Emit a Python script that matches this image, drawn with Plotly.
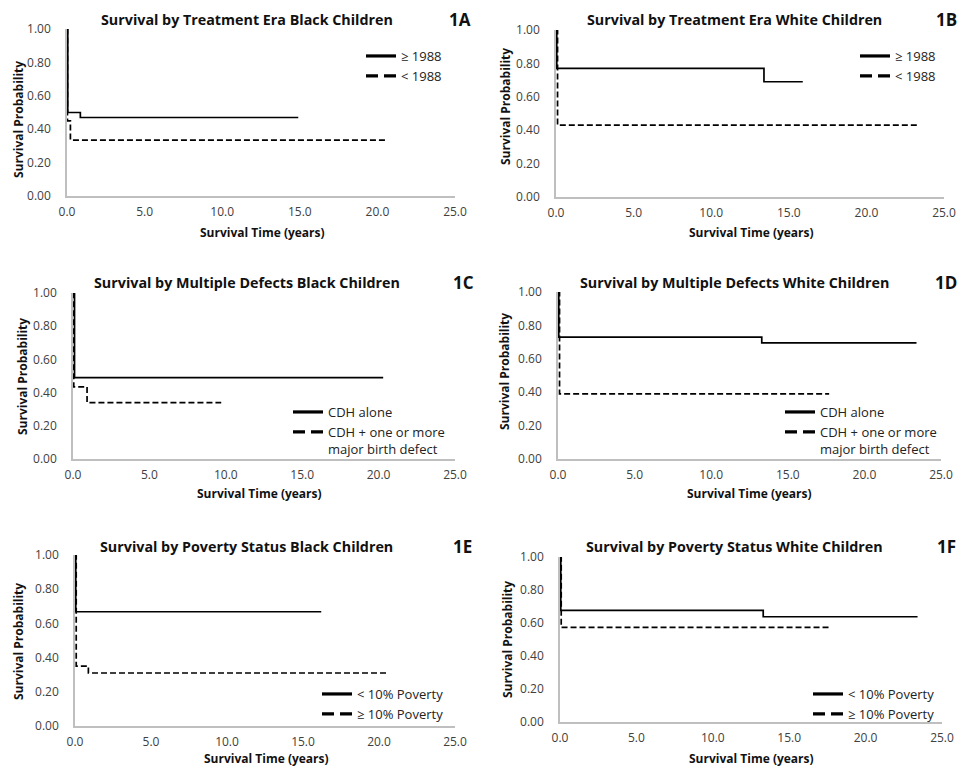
import plotly.graph_objects as go

# ---------------- data ----------------
A_ge_t = [0, 0.05, 0.86, 14.9]
A_ge_s = [1.0, 0.50, 0.47, 0.47]
A_lt_t = [0, 0.03, 0.22, 20.5]
A_lt_s = [1.0, 0.45, 0.335, 0.335]

B_ge_t = [0, 0.05, 13.4, 15.9]
B_ge_s = [1.0, 0.77, 0.69, 0.69]
B_lt_t = [0, 0.10, 23.4]
B_lt_s = [1.0, 0.43, 0.43]

C_alone_t = [0, 0.10, 20.3]
C_alone_s = [1.0, 0.49, 0.49]
C_multi_t = [0, 0.05, 0.92, 9.7]
C_multi_s = [1.0, 0.435, 0.34, 0.34]

D_alone_t = [0, 0.05, 13.3, 23.4]
D_alone_s = [1.0, 0.73, 0.695, 0.695]
D_multi_t = [0, 0.10, 17.7]
D_multi_s = [1.0, 0.39, 0.39]

E_low_t = [0, 0.05, 16.2]
E_low_s = [1.0, 0.668, 0.668]
E_high_t = [0, 0.08, 0.88, 20.6]
E_high_s = [1.0, 0.35, 0.31, 0.31]

F_low_t = [0, 0.05, 13.3, 23.4]
F_low_s = [1.0, 0.676, 0.638, 0.638]
F_high_t = [0, 0.08, 17.7]
F_high_s = [1.0, 0.573, 0.573]

titles = [
    "Survival by Treatment Era Black Children",
    "Survival by Treatment Era White Children",
    "Survival by Multiple Defects Black Children",
    "Survival by Multiple Defects White Children",
    "Survival by Poverty Status Black Children",
    "Survival by Poverty Status White Children",
]
panel_labels = ["1A", "1B", "1C", "1D", "1E", "1F"]
era_names = ["\u2265 1988", "< 1988"]
defect_names = ["CDH alone", "CDH + one or more<br>major birth defect"]
poverty_names = ["< 10% Poverty", "\u2265 10% Poverty"]

x_ticks = [0, 5, 10, 15, 20, 25]
y_ticks = [0, 0.2, 0.4, 0.6, 0.8, 1.0]

panels = [
    (A_ge_t, A_ge_s, A_lt_t, A_lt_s, era_names),
    (B_ge_t, B_ge_s, B_lt_t, B_lt_s, era_names),
    (C_alone_t, C_alone_s, C_multi_t, C_multi_s, defect_names),
    (D_alone_t, D_alone_s, D_multi_t, D_multi_s, defect_names),
    (E_low_t, E_low_s, E_high_t, E_high_s, poverty_names),
    (F_low_t, F_low_s, F_high_t, F_high_s, poverty_names),
]

# ---------------- layout geometry (screen pixels in the 965x766 window) ----------------
W, H = 949, 766
OFF = 8  # page body margin offsets the figure


def fx(px):
    return (px - OFF) / W


def fy(py):
    return 1 - (py - OFF) / H


# plot areas: x0, x1, ytop, ybottom
areas = [
    (67, 455, 29, 196),
    (556, 944, 30, 197),
    (73, 455, 293, 459),
    (558, 941, 292, 459),
    (75, 455, 555, 726),
    (560, 942, 557, 722),
]
title_pos = [(247, 20), (734, 20), (247, 283), (734, 283), (247, 546), (734, 546)]
label_pos = [(460, 20), (946, 20), (463, 283), (946, 283), (462, 546), (946, 546)]
ytitle_pos = [(18, 120), (505, 107), (22, 377), (505, 372), (18, 642), (507, 640)]
xtitle_pos = [(262, 233), (751, 232), (260, 494), (749, 494), (266, 758), (751, 758)]
legend_pos = [(361, 41), (855, 41), (288, 397), (780, 397), (317, 679), (808, 679)]

FONT = "Open Sans"
fig = go.Figure()

for i, (t1, s1, t2, s2, names) in enumerate(panels):
    n = i + 1
    xa = "x" if n == 1 else f"x{n}"
    ya = "y" if n == 1 else f"y{n}"
    lg = "legend" if n == 1 else f"legend{n}"
    fig.add_trace(go.Scatter(x=t1, y=s1, mode="lines", line=dict(color="black", width=1.7, shape="hv"),
                             xaxis=xa, yaxis=ya, showlegend=False, name=names[0].replace("<br>", " ")))
    fig.add_trace(go.Scatter(x=t2, y=s2, mode="lines", line=dict(color="black", width=1.7, shape="hv", dash="6px,3px"),
                             xaxis=xa, yaxis=ya, showlegend=False, name=names[1].replace("<br>", " ")))
    # legend entries (thicker samples, as in the reference)
    fig.add_trace(go.Scatter(x=[None], y=[None], mode="lines", line=dict(color="black", width=3.2),
                             xaxis=xa, yaxis=ya, name=names[0], legend=lg))
    fig.add_trace(go.Scatter(x=[None], y=[None], mode="lines", line=dict(color="black", width=3.2, dash="12px,6px"),
                             xaxis=xa, yaxis=ya, name=names[1], legend=lg))

    x0, x1, yt, yb = areas[i]
    axis_common = dict(showgrid=False, zeroline=False, showline=True, linecolor="#bfbfbf", linewidth=1.5,
                       ticks="", tickfont=dict(family=FONT, size=12, color="#404040"), fixedrange=True,
                       automargin=False)
    xkey = "xaxis" if n == 1 else f"xaxis{n}"
    ykey = "yaxis" if n == 1 else f"yaxis{n}"
    fig.update_layout({
        xkey: dict(axis_common, domain=[fx(x0), fx(x1)], range=[0, 25], tickvals=x_ticks, tickformat=".1f",
                   anchor=ya, ticklabelstandoff=4),
        ykey: dict(axis_common, domain=[fy(yb), fy(yt)], range=[0, 1], tickvals=y_ticks, tickformat=".2f",
                   anchor=xa, ticklabelstandoff=12),
        lg: dict(x=fx(legend_pos[i][0]), y=fy(legend_pos[i][1]), xanchor="left", yanchor="top",
                 bgcolor="rgba(0,0,0,0)", font=dict(family=FONT, size=13, color="#222222"),
                 valign="top", tracegroupgap=0),
    })

    fig.add_annotation(x=fx(title_pos[i][0]), y=fy(title_pos[i][1]), xref="paper", yref="paper",
                       text=f"<b>{titles[i]}</b>", showarrow=False, xanchor="center", yanchor="middle",
                       font=dict(family=FONT, size=14.3, color="#111111"))
    fig.add_annotation(x=fx(label_pos[i][0]), y=fy(label_pos[i][1]), xref="paper", yref="paper",
                       text=f"<b>{panel_labels[i]}</b>", showarrow=False, xanchor="center", yanchor="middle",
                       font=dict(family=FONT, size=17, color="#111111"))
    fig.add_annotation(x=fx(ytitle_pos[i][0]), y=fy(ytitle_pos[i][1]), xref="paper", yref="paper",
                       text="<b>Survival Probability</b>", showarrow=False, textangle=-90,
                       xanchor="center", yanchor="middle", font=dict(family=FONT, size=12, color="#111111"))
    fig.add_annotation(x=fx(xtitle_pos[i][0]), y=fy(xtitle_pos[i][1]), xref="paper", yref="paper",
                       text="<b>Survival Time (years)</b>", showarrow=False,
                       xanchor="center", yanchor="middle", font=dict(family=FONT, size=12, color="#111111"))

fig.update_layout(template="none", width=W, height=H,
                  margin=dict(l=0, r=0, t=0, b=0, pad=0, autoexpand=False),
                  paper_bgcolor="white", plot_bgcolor="white", font=dict(family=FONT))

fig.write_html("out.html")
